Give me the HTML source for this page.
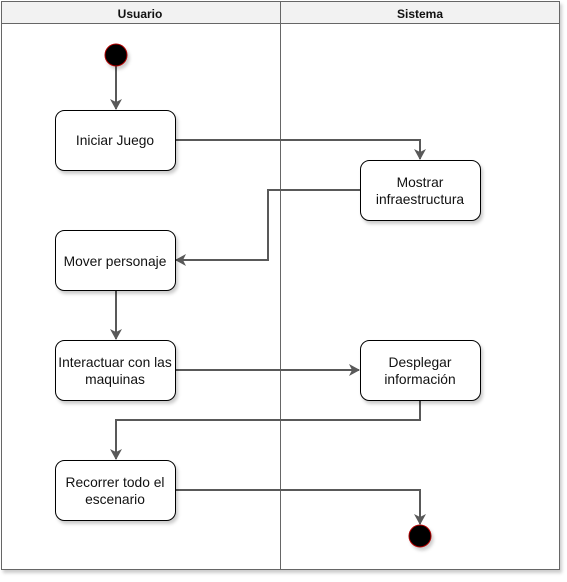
<!DOCTYPE html>
<html><head><style>body{margin:0;background:#fff}</style></head><body>
<svg width="567" height="577" xmlns="http://www.w3.org/2000/svg" font-family="Liberation Sans, Arial, sans-serif">
<defs>
<filter id="s" x="-20%" y="-20%" width="150%" height="150%"><feDropShadow dx="2" dy="3" stdDeviation="1.5" flood-color="#000" flood-opacity="0.2"/></filter>
<marker id="a" markerWidth="12" markerHeight="12" refX="10" refY="6" orient="auto" markerUnits="userSpaceOnUse"><path d="M0,0 L11,6 L0,12 L3,6 Z" fill="#595959"/></marker>
</defs>
<g filter="url(#s)">
<rect x="1.5" y="1.5" width="558" height="568" fill="#fff" stroke="#666"/>
<rect x="1.5" y="1.5" width="558" height="22" fill="#f2f2f2" stroke="#666"/>
<line x1="280.5" y1="1.5" x2="280.5" y2="569.5" stroke="#666"/>
</g>
<text x="140" y="18" font-size="12" font-weight="bold" text-anchor="middle" fill="#111">Usuario</text>
<text x="420" y="18" font-size="12" font-weight="bold" text-anchor="middle" fill="#111">Sistema</text>
<g stroke="#595959" stroke-width="2" fill="none" marker-end="url(#a)">
<path d="M116 66 V109"/>
<path d="M175 140 H420 V159"/>
<path d="M360 190 H268 V260 H176"/>
<path d="M116 290 V339"/>
<path d="M175 370 H359"/>
<path d="M420 400 V420 H116 V459"/>
<path d="M175 490 H420 V524"/>
</g>
<g filter="url(#s)" fill="#fff" stroke="#000" stroke-width="1">
<rect x="55.5" y="110.5" width="120" height="60" rx="9"/>
<rect x="360.5" y="160.5" width="120" height="60" rx="9"/>
<rect x="55.5" y="230.5" width="120" height="60" rx="9"/>
<rect x="55.5" y="340.5" width="120" height="60" rx="9"/>
<rect x="360.5" y="340.5" width="120" height="60" rx="9"/>
<rect x="55.5" y="460.5" width="120" height="60" rx="9"/>
<circle cx="116" cy="55" r="11" fill="#000" stroke="#b00000"/>
<circle cx="420" cy="536" r="11" fill="#000" stroke="#b00000"/>
</g>
<g font-size="13.8" text-anchor="middle" fill="#111">
<text x="115" y="145">Iniciar Juego</text>
<text x="420" y="187">Mostrar</text><text x="420" y="204">infraestructura</text>
<text x="115" y="266">Mover personaje</text>
<text x="115" y="367">Interactuar con las</text><text x="115" y="384">maquinas</text>
<text x="420" y="367">Desplegar</text><text x="420" y="384">información</text>
<text x="115" y="487">Recorrer todo el</text><text x="115" y="504">escenario</text>
</g>
</svg>
</body></html>
